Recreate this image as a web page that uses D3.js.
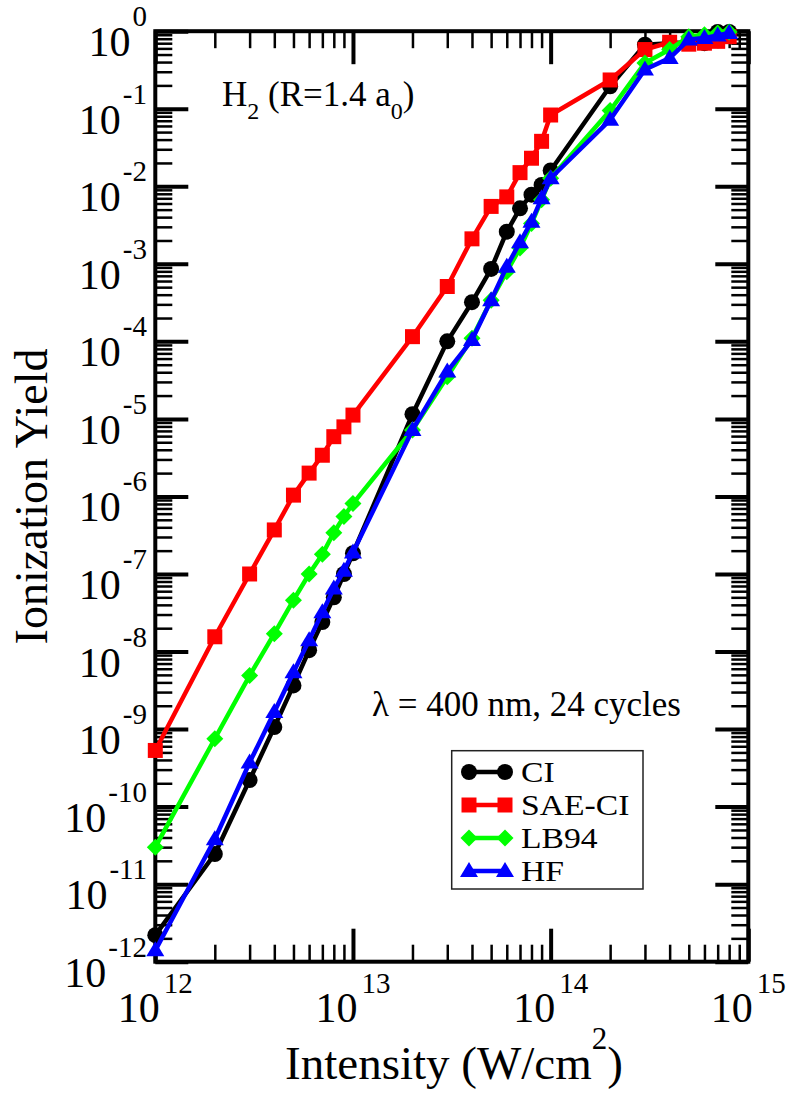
<!DOCTYPE html>
<html>
<head>
<meta charset="utf-8">
<script src="https://cdn.jsdelivr.net/npm/d3@7"></script>
<style>
  html, body { margin: 0; padding: 0; background: #fff; }
  svg { display: block; }
  text { font-family: "Liberation Serif", "Times New Roman", Times, serif; fill: #000; }
</style>
</head>
<body>
<svg id="chart" width="792" height="1093"></svg>
<script>
// Laser intensities (W/cm^2)
const intensity = [
  1e12, 2e12, 3e12, 4e12, 5e12, 6e12, 7e12, 8e12, 9e12,
  1e13, 2e13, 3e13, 4e13, 5e13, 6e13, 7e13, 8e13, 9e13,
  1e14, 2e14, 3e14, 4e14, 5e14, 6e14, 7e14, 8e14
];

// Ionization yields per method
const ciYield = [
  2.2e-12, 2.45e-11, 2.2e-10, 1.06e-9, 3.66e-9, 1.04e-8, 2.4e-8, 5.0e-8, 1.0e-7,
  1.85e-7, 1.15e-5, 1.0e-4, 3.2e-4, 8.6e-4, 2.6e-3, 5.2e-3, 7.8e-3, 1.04e-2,
  1.6e-2, 0.195, 0.67, 0.70, 0.72, 0.70, 0.98, 0.98
];
const saeCiYield = [
  5.3e-10, 1.55e-8, 1.0e-7, 3.7e-7, 1.04e-6, 2.0e-6, 3.4e-6, 5.9e-6, 7.9e-6,
  1.12e-5, 1.15e-4, 5.1e-4, 2.1e-3, 5.5e-3, 7.3e-3, 1.5e-2, 2.3e-2, 3.8e-2,
  8.3e-2, 0.235, 0.58, 0.72, 0.68, 0.70, 0.74, 0.85
];
const lb94Yield = [
  3.0e-11, 7.5e-10, 4.9e-9, 1.7e-8, 4.6e-8, 1.0e-7, 1.8e-7, 3.4e-7, 5.5e-7,
  8.1e-7, 7.2e-6, 3.5e-5, 1.1e-4, 3.4e-4, 7.9e-4, 1.6e-3, 3.3e-3, 6.7e-3,
  1.27e-2, 0.095, 0.39, 0.58, 0.85, 0.90, 0.95, 0.98
];
const hfYield = [
  1.4e-12, 3.8e-11, 3.7e-10, 1.66e-9, 5.4e-9, 1.4e-8, 3.2e-8, 6.5e-8, 1.1e-7,
  1.9e-7, 7.2e-6, 4.1e-5, 1.04e-4, 3.4e-4, 9.2e-4, 1.9e-3, 3.5e-3, 7.0e-3,
  1.27e-2, 0.072, 0.32, 0.45, 0.78, 0.82, 0.88, 0.95
];

const seriesNames = ["CI", "SAE-CI", "LB94", "HF"];
const seriesColors = ["#000000", "#ff0000", "#00ff00", "#0000ff"];
const seriesShapes = ["circle", "square", "diamond", "triangle"];
const seriesValues = [ciYield, saeCiYield, lb94Yield, hfYield];

// Axis tick exponents
const xExponents = [12, 13, 14, 15];
const yExponents = [0, -1, -2, -3, -4, -5, -6, -7, -8, -9, -10, -11, -12];

const svg = d3.select("#chart");
const plotLeft = 155.3, plotRight = 748.3, plotTop = 31.2, plotBottom = 961.7;

const x = d3.scaleLog().domain([1e12, 1e15]).range([plotLeft, plotRight]);
const y = d3.scaleLog().domain([1e-12, 1]).range([plotBottom, plotTop]);

// Minor ticks: 2..9 within each decade
const minorX = [];
for (let e = 12; e < 15; e++) for (let k = 2; k <= 9; k++) minorX.push(k * Math.pow(10, e));
const minorY = [];
for (let e = -12; e < 0; e++) for (let k = 2; k <= 9; k++) minorY.push(k * Math.pow(10, e));
const majorX = xExponents.map(e => Math.pow(10, e));
const majorY = yExponents.map(e => Math.pow(10, e));

function tickAxis(axisFn, scale, values, size, width, transform) {
  const g = svg.append("g").attr("transform", transform)
    .call(axisFn(scale).tickValues(values).tickSizeInner(-size).tickSizeOuter(0).tickFormat(""));
  g.select(".domain").remove();
  g.selectAll(".tick line").attr("stroke", "#000").attr("stroke-width", width);
}

tickAxis(d3.axisBottom, x, minorX, 17, 2.5, `translate(0,${plotBottom})`);
tickAxis(d3.axisBottom, x, majorX, 33, 4, `translate(0,${plotBottom})`);
tickAxis(d3.axisTop, x, minorX, 17, 2.5, `translate(0,${plotTop})`);
tickAxis(d3.axisTop, x, majorX, 33, 4, `translate(0,${plotTop})`);
tickAxis(d3.axisLeft, y, minorY, 17, 2.5, `translate(${plotLeft},0)`);
tickAxis(d3.axisLeft, y, majorY, 33, 4, `translate(${plotLeft},0)`);
tickAxis(d3.axisRight, y, minorY, 17, 2.5, `translate(${plotRight},0)`);
tickAxis(d3.axisRight, y, majorY, 33, 4, `translate(${plotRight},0)`);

// Frame
svg.append("rect")
  .attr("x", plotLeft).attr("y", plotTop)
  .attr("width", plotRight - plotLeft).attr("height", plotBottom - plotTop)
  .attr("fill", "none").attr("stroke", "#000").attr("stroke-width", 4);

// Tick labels as 10^n
const xLabels = svg.append("g");
xExponents.forEach(e => {
  const t = xLabels.append("text")
    .attr("x", x(Math.pow(10, e)))
    .attr("y", 1022)
    .attr("text-anchor", "middle")
    .style("font-size", "42px");
  t.append("tspan").text("10");
  t.append("tspan").attr("dx", 4).attr("dy", -29).style("font-size", "29px").text(String(e));
});

const yLabels = svg.append("g");
yExponents.forEach(e => {
  const t = yLabels.append("text")
    .attr("x", 147)
    .attr("y", y(Math.pow(10, e)) + 25)
    .attr("text-anchor", "end")
    .style("font-size", "42px");
  t.append("tspan").text("10");
  t.append("tspan").attr("dx", 2).attr("dy", -30).style("font-size", "29px").text(String(e));
});

// Axis titles
const xt = svg.append("text")
  .attr("x", 454).attr("y", 1079)
  .attr("text-anchor", "middle")
  .style("font-size", "47px");
xt.append("tspan").text("Intensity (W/cm");
xt.append("tspan").attr("dy", -30).style("font-size", "31px").text("2");
xt.append("tspan").attr("dy", 30).text(")");

svg.append("text")
  .attr("transform", `translate(47,${(plotTop + plotBottom) / 2}) rotate(-90)`)
  .attr("text-anchor", "middle")
  .style("font-size", "46px")
  .text("Ionization Yield");

// Marker shapes
function markerPath(shape) {
  switch (shape) {
    case "circle": return d3.symbol(d3.symbolCircle, Math.PI * 8 * 8)();
    case "square": return "M-7.5,-7.5H7.5V7.5H-7.5Z";
    case "diamond": return "M0,-8.5L8.5,0L0,8.5L-8.5,0Z";
    case "triangle": return "M0,-9L9,6L-9,6Z";
  }
}

const line = d3.line()
  .x(d => x(d[0]))
  .y(d => y(d[1]));

seriesNames.forEach((name, i) => {
  const pts = intensity.map((I, j) => [I, seriesValues[i][j]]);
  const g = svg.append("g").attr("class", "series");
  g.append("path")
    .datum(pts)
    .attr("d", line)
    .attr("fill", "none")
    .attr("stroke", seriesColors[i])
    .attr("stroke-width", 4.5)
    .attr("stroke-linejoin", "round");
  g.selectAll("path.mark")
    .data(pts)
    .join("path")
    .attr("class", "mark")
    .attr("d", markerPath(seriesShapes[i]))
    .attr("transform", d => `translate(${x(d[0])},${y(d[1])})`)
    .attr("fill", seriesColors[i]);
});

// Annotations
const h2 = svg.append("text")
  .attr("x", 222).attr("y", 106)
  .style("font-size", "35px");
h2.append("tspan").text("H");
h2.append("tspan").attr("dy", 13).style("font-size", "24px").text("2");
h2.append("tspan").attr("dy", -13).text(" (R=1.4 a");
h2.append("tspan").attr("dy", 13).style("font-size", "24px").text("0");
h2.append("tspan").attr("dy", -13).text(")");

svg.append("text")
  .attr("x", 372).attr("y", 716)
  .style("font-size", "35px")
  .text("λ = 400 nm, 24 cycles");

// Legend
const legend = svg.append("g");
legend.append("rect")
  .attr("x", 451.7).attr("y", 750.7)
  .attr("width", 191.3).attr("height", 138.3)
  .attr("fill", "#fff").attr("stroke", "#222").attr("stroke-width", 1.5);

const legendBaselines = [782, 815, 848, 881];
seriesNames.forEach((name, i) => {
  const cy = legendBaselines[i] - 10;
  legend.append("line")
    .attr("x1", 468).attr("x2", 505)
    .attr("y1", cy).attr("y2", cy)
    .attr("stroke", seriesColors[i]).attr("stroke-width", 4.5);
  [469, 505].forEach(cx => {
    legend.append("path")
      .attr("d", markerPath(seriesShapes[i]))
      .attr("transform", `translate(${cx},${cy})`)
      .attr("fill", seriesColors[i]);
  });
  legend.append("text")
    .attr("transform", `translate(521,${legendBaselines[i]}) scale(1.16,1)`)
    .style("font-size", "29px")
    .text(name);
});
</script>
</body>
</html>
